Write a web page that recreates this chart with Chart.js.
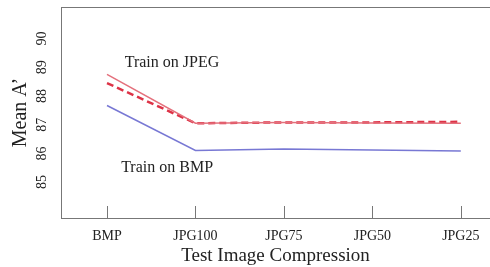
<!DOCTYPE html>
<html>
<head>
<meta charset="utf-8">
<script src="https://cdn.jsdelivr.net/npm/chart.js@4/dist/chart.umd.min.js"></script>
<style>
    html, body { margin: 0; padding: 0; background: #fff; }
    #wrap { width: 490px; height: 267px; }
</style>
</head>
<body>
<div id="wrap"><canvas id="chart"></canvas></div>
<script>
const categories = ["BMP", "JPG100", "JPG75", "JPG50", "JPG25"];
const yTicks = [85, 86, 87, 88, 89, 90];

const jpegSolid = [88.75, 87.05, 87.08, 87.06, 87.05];
const jpegDashed = [88.45, 87.05, 87.08, 87.08, 87.1];
const bmpLine = [87.67, 86.1, 86.15, 86.12, 86.08];

const noteTexts = ["Train on JPEG", "Train on BMP"];
const noteX = [0.2, 0.16];
const noteY = [89.17, 85.49];

const serif = "'Liberation Serif', 'DejaVu Serif', serif";
const axisGray = "#777";

function toPoints(values) {
    return values.map((v, i) => ({ x: i, y: v }));
}

// tick marks pointing up into the plot, and the text notes
const extras = {
    id: 'extras',
    afterDraw(chart) {
        const ctx = chart.ctx;
        const xs = chart.scales.x;
        const ys = chart.scales.y;
        const bottom = chart.chartArea.bottom;

        ctx.save();
        ctx.strokeStyle = axisGray;
        ctx.lineWidth = 1;
        for (let i = 0; i < categories.length; i++) {
            const px = Math.round(xs.getPixelForValue(i)) + 0.5;
            ctx.beginPath();
            ctx.moveTo(px, bottom);
            ctx.lineTo(px, bottom - 12);
            ctx.stroke();
        }

        ctx.fillStyle = "#222";
        ctx.font = "16px " + serif;
        ctx.textBaseline = 'middle';
        ctx.textAlign = 'left';
        for (let i = 0; i < noteTexts.length; i++) {
            ctx.fillText(noteTexts[i], xs.getPixelForValue(noteX[i]), ys.getPixelForValue(noteY[i]));
        }
        ctx.restore();
    }
};

const ctx = document.getElementById('chart').getContext('2d');
const chart = new Chart(ctx, {
    type: 'line',
    data: {
        datasets: [
            {
                label: 'JPEG',
                data: toPoints(jpegSolid),
                borderColor: '#e4707c',
                borderWidth: 1.5,
                pointRadius: 0,
                tension: 0,
            },
            {
                label: 'JPEG dashed',
                data: toPoints(jpegDashed),
                borderColor: '#dd3347',
                borderWidth: 2.5,
                borderDash: [7, 4],
                pointRadius: 0,
                tension: 0,
            },
            {
                label: 'BMP',
                data: toPoints(bmpLine),
                borderColor: '#7878d4',
                borderWidth: 1.5,
                pointRadius: 0,
                tension: 0,
            },
        ],
    },
    options: {
        animation: false,
        responsive: true,
        maintainAspectRatio: false,
        layout: { padding: 0 },
        plugins: {
            legend: { display: false },
            tooltip: { enabled: false },
        },
        scales: {
            x: {
                type: 'linear',
                min: -0.52,
                max: 4.33,
                afterBuildTicks: (scale) => {
                    scale.ticks = categories.map((c, i) => ({ value: i }));
                },
                afterFit: (scale) => {
                    scale.height = 49;
                    scale.paddingLeft = 0;
                    scale.paddingRight = 0;
                },
                grid: { display: false, drawTicks: false },
                border: { display: true, color: axisGray, width: 1 },
                ticks: {
                    padding: 10,
                    color: '#222',
                    font: { family: serif, size: 14 },
                    maxRotation: 0,
                    callback: (v) => categories[v],
                },
                title: {
                    display: true,
                    text: 'Test Image Compression',
                    color: '#222',
                    font: { family: serif, size: 19 },
                    padding: { top: 0, bottom: 0 },
                },
            },
            xTop: {
                type: 'linear',
                position: 'top',
                min: 0,
                max: 1,
                afterFit: (scale) => {
                    scale.height = 7;
                    scale.paddingLeft = 0;
                    scale.paddingRight = 0;
                },
                grid: { display: false, drawTicks: false },
                border: { display: true, color: axisGray, width: 1 },
                ticks: { display: false },
            },
            y: {
                type: 'linear',
                min: 83.75,
                max: 91.1,
                afterBuildTicks: (scale) => {
                    scale.ticks = yTicks.map((v) => ({ value: v }));
                },
                afterFit: (scale) => {
                    scale.width = 61;
                    scale.paddingTop = 0;
                    scale.paddingBottom = 0;
                },
                grid: { display: false, drawTicks: false },
                border: { display: true, color: axisGray, width: 1 },
                ticks: {
                    minRotation: 90,
                    maxRotation: 90,
                    crossAlign: 'center',
                    padding: 12,
                    color: '#222',
                    font: { family: serif, size: 14 },
                },
                title: {
                    display: true,
                    text: 'Mean A\u2019',
                    color: '#222',
                    font: { family: serif, size: 20 },
                    padding: { top: 9, bottom: 0 },
                },
            },
        },
    },
    plugins: [extras],
});
</script>
</body>
</html>
